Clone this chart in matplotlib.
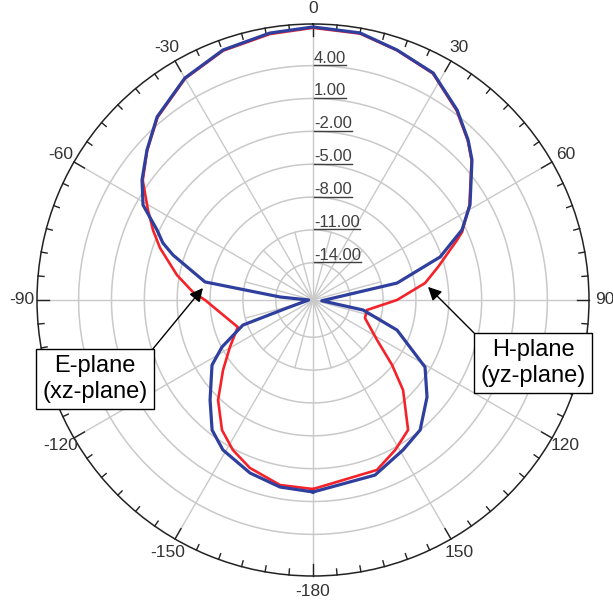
import numpy as np
import matplotlib
matplotlib.use("Agg")
import matplotlib.pyplot as plt
from matplotlib.lines import Line2D
from matplotlib.transforms import IdentityTransform, offset_copy

plt.rcParams['font.family'] = ['Liberation Sans', 'DejaVu Sans']

# ---------------- data (angle in degrees, gain in dB) ----------------
blue_angle = [-180, -170.0, -160.0, -149.0, -142.2, -134.2, -122.8, -117.3, -109.7, -107.1,
              -90, -84.8, -80.5, -72.2, -69.2, -65.8, -60.8, -54.9, -47.9, -40.4, -30.0,
              -19.8, -9.2, 0, 10.0, 18.6, 27.9, 37.2, 44.1, 48.6, 58.8, 64.8, 71.3, 78.6,
              95, 101.3, 109.7, 120.9, 130.4, 140.5, 149.0, 160.5, 180]
blue_db = [0.13, -0.06, -0.59, -1.43, -2.37, -4.29, -6.43, -8.05, -10.6, -14.9,
           -17.0, -14.4, -7.4, -3.98, -2.74, -1.78, 0.38, 1.68, 3.03, 4.56, 6.0,
           6.86, 7.29, 7.53, 7.36, 6.68, 6.05, 4.37, 2.95, 1.95, -0.64, -2.37, -5.15, -9.57,
           -16.6, -12.74, -9.25, -5.48, -3.73, -2.02, -1.43, -0.44, 0.13]

red_angle = [-180, -169.9, -159.4, -151.9, -145.0, -136.5, -127.9, -119.5, -109.8, -90,
             -86.2, -79.6, -71.2, -66.4, -61.4, -54.9, -47.9, -40.4, -30.0, -19.8, -9.2,
             0, 10.0, 18.6, 27.9, 37.2, 44.1, 48.6, 58.8, 65.5, 67.4, 75.2, 81.4, 90,
             100.5, 109.1, 122.0, 129.4, 135.0, 143.8, 151.3, 159.4, 180]
red_db = [-0.14, -0.24, -1.02, -1.87, -2.91, -4.81, -6.99, -8.69, -10.1, -7.54,
          -6.41, -4.77, -2.64, -1.46, -0.24, 1.6, 3.0, 4.5, 5.95, 6.8, 7.2,
          7.45, 7.3, 6.65, 6.0, 4.3, 2.9, 1.9, -0.7, -2.44, -3.15, -5.59, -7.05, -9.73,
          -12.39, -12.38, -10.5, -8.06, -5.77, -2.7, -1.78, -0.82, -0.14]

ring_levels = [4, 1, -2, -5, -8, -11, -14]
ring_labels = ['4.00', '1.00', '-2.00', '-5.00', '-8.00', '-11.00', '-14.00']

angle_ticks = [0, 30, 60, 90, 120, 150, 180, -150, -120, -90, -60, -30]
angle_labels = ['0', '30', '60', '90', '120', '150', '-180', '-150', '-120', '-90', '-60', '-30']

R_MIN, R_MAX = -17.4, 7.8
PX_PER_DB = 10.95

BLUE = '#2f3f9e'
RED = '#f5222a'
GRID = '#c9c9c9'

fig = plt.figure(figsize=(6.13, 6.03), dpi=100)
cx, cy, rad_px = 313 / 613, (603 - 300) / 603, 276
w, h = rad_px / 613, rad_px / 603
ax = fig.add_axes([cx - w, cy - h, 2 * w, 2 * h], projection='polar')
ax.set_theta_zero_location('N')
ax.set_theta_direction(-1)
ax.set_ylim(R_MIN, R_MAX)
ax.grid(False)
ax.set_xticks([])
ax.set_yticks([])
ax.spines['polar'].set_color('#222222')
ax.spines['polar'].set_linewidth(1.1)

# grid circles
th = np.linspace(0, 2 * np.pi, 721)
for lvl in ring_levels:
    ax.plot(th, np.full_like(th, lvl), color=GRID, lw=1.1, zorder=1)

# spokes
for a in range(0, 360, 30):
    ax.plot([np.deg2rad(a)] * 2, [R_MIN, R_MAX], color=GRID, lw=1.0, zorder=1)
for a in range(15, 360, 30):
    ax.plot([np.deg2rad(a)] * 2, [R_MIN, -11], color=GRID, lw=1.0, zorder=1)

# outer ticks
for a in range(0, 360, 5):
    L = 12 if a % 30 == 0 else 6
    ax.plot([np.deg2rad(a)] * 2, [R_MAX - L / PX_PER_DB, R_MAX], color='#222222',
            lw=1.0, zorder=3, clip_on=False)

# angle labels
for a, lab in zip(angle_ticks, angle_labels):
    ax.text(np.deg2rad(a), R_MAX + 15.5 / PX_PER_DB, lab, ha='center', va='center',
            fontsize=12.5, color='#333333', clip_on=False)

# data curves
ax.plot(np.deg2rad(red_angle), red_db, color=RED, lw=1.9, zorder=4)
ax.plot(np.deg2rad(blue_angle), blue_db, color=BLUE, lw=2.3, zorder=5)

# radial labels (underlined)
txts = []
for lvl, lab in zip(ring_levels, ring_labels):
    tr = offset_copy(ax.transData, fig=fig, x=1, y=3, units='dots')
    t = ax.text(0, lvl, lab, transform=tr, ha='left', va='baseline', fontsize=12,
                color='#404040', zorder=6)
    txts.append((t, lvl))

# annotations
ax.annotate('E-plane\n(xz-plane)', xy=(np.deg2rad(-83.8), -7.29), xycoords='data',
            xytext=(95, 224), textcoords='figure pixels', ha='center', va='center',
            fontsize=17, linespacing=1.2, zorder=10,
            bbox=dict(boxstyle='square,pad=0.25', fc='white', ec='black', lw=1.0),
            arrowprops=dict(arrowstyle='-|>', color='black', lw=1.0, mutation_scale=20,
                            relpos=(1, 1), shrinkA=0, shrinkB=0))
ax.annotate('H-plane\n(yz-plane)', xy=(np.deg2rad(83.5), -6.83), xycoords='data',
            xytext=(533, 240), textcoords='figure pixels', ha='center', va='center',
            fontsize=17, linespacing=1.2, zorder=10,
            bbox=dict(boxstyle='square,pad=0.25', fc='white', ec='black', lw=1.0),
            arrowprops=dict(arrowstyle='-|>', color='black', lw=1.0, mutation_scale=20,
                            relpos=(0, 1), shrinkA=0, shrinkB=0))

fig.canvas.draw()
renderer = fig.canvas.get_renderer()
for t, lvl in txts:
    bb = t.get_window_extent(renderer)
    x0, y0 = ax.transData.transform((0, lvl))
    fig.add_artist(Line2D([bb.x0, bb.x1], [y0 + 0.5, y0 + 0.5], transform=IdentityTransform(),
                          color='#404040', lw=1.0, zorder=6))

fig.savefig('out.png', dpi=100)
